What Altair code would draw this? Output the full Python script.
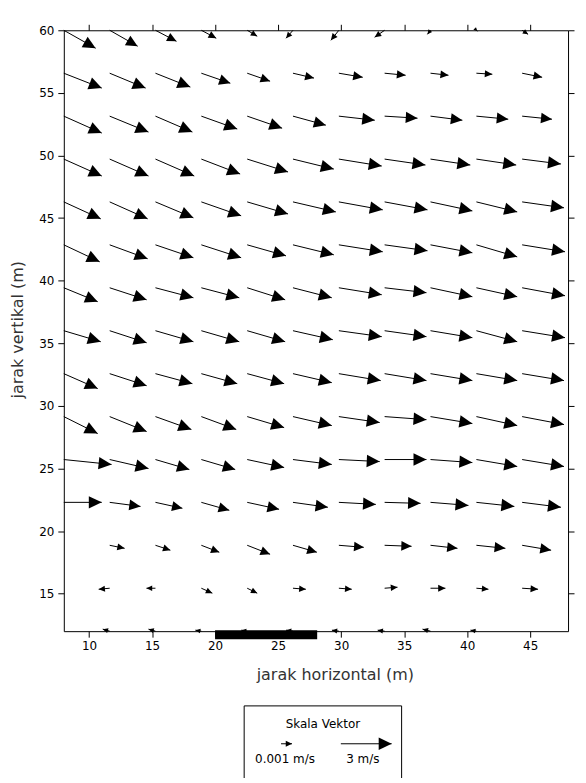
import math
import altair as alt
import pandas as pd

# ---------------- data ----------------
GRID_X = [8.0, 11.64, 15.27, 18.91, 22.55, 26.18, 29.82, 33.45, 37.09, 40.73, 44.36]
GRID_Y = [60.0, 56.57, 53.14, 49.71, 46.29, 42.86, 39.43, 36.0, 32.57, 29.14,
          25.71, 22.29, 18.86, 15.43, 12.0]

# horizontal velocity component (m/s), one list per row (top row first)
U = [
    [1.88, 1.65, 1.24, 0.88, 0.59, -0.41, -0.47, -0.59, -0.18, 0.06, 0.35],
    [2.24, 2.12, 2.06, 1.71, 1.35, 1.24, 1.41, 1.24, 1.06, 0.94, 1.18],
    [2.24, 2.29, 2.18, 2.12, 2.06, 1.94, 2.12, 1.94, 1.88, 1.88, 1.76],
    [2.24, 2.29, 2.29, 2.29, 2.41, 2.41, 2.53, 2.41, 2.35, 2.35, 2.29],
    [2.18, 2.24, 2.24, 2.35, 2.41, 2.53, 2.59, 2.53, 2.47, 2.41, 2.47],
    [2.12, 2.24, 2.24, 2.35, 2.29, 2.41, 2.59, 2.53, 2.47, 2.41, 2.53],
    [2.00, 2.18, 2.24, 2.24, 2.24, 2.29, 2.53, 2.47, 2.47, 2.41, 2.53],
    [2.18, 2.18, 2.24, 2.24, 2.24, 2.35, 2.53, 2.47, 2.47, 2.41, 2.53],
    [2.00, 2.18, 2.18, 2.12, 2.18, 2.29, 2.47, 2.47, 2.47, 2.41, 2.47],
    [2.00, 2.18, 2.12, 2.06, 2.18, 2.29, 2.41, 2.47, 2.47, 2.41, 2.47],
    [2.82, 2.29, 2.00, 2.00, 2.18, 2.29, 2.41, 2.47, 2.47, 2.41, 2.47],
    [2.24, 1.82, 1.59, 1.65, 1.88, 2.06, 2.18, 2.12, 2.24, 2.24, 2.29],
    [0.00, 0.88, 0.88, 1.06, 1.35, 1.41, 1.47, 1.59, 1.59, 1.71, 1.71],
    [0.00, -0.65, -0.53, 0.65, 0.59, 0.76, 0.76, 0.76, 0.88, 0.71, 0.94],
    [0.00, -0.41, -0.41, -0.35, -0.35, -0.41, -0.41, -0.41, -0.47, -0.35, 0.00],
]
# vertical velocity component (m/s, positive = up)
V = [
    [-1.06, -0.94, -0.65, -0.47, -0.35, -0.47, -0.59, -0.41, -0.24, -0.06, -0.24],
    [-0.88, -0.88, -0.82, -0.59, -0.47, -0.29, -0.24, -0.12, -0.12, -0.06, -0.24],
    [-1.00, -0.94, -0.94, -0.76, -0.71, -0.53, -0.24, -0.12, -0.24, -0.18, -0.18],
    [-1.00, -1.00, -1.00, -0.88, -0.76, -0.59, -0.41, -0.35, -0.35, -0.35, -0.29],
    [-1.00, -1.00, -0.94, -0.82, -0.71, -0.59, -0.47, -0.47, -0.53, -0.59, -0.35],
    [-1.00, -0.82, -0.76, -0.76, -0.65, -0.59, -0.41, -0.35, -0.47, -0.71, -0.41],
    [-0.82, -0.71, -0.59, -0.59, -0.71, -0.59, -0.41, -0.29, -0.53, -0.53, -0.47],
    [-0.65, -0.71, -0.65, -0.65, -0.65, -0.53, -0.35, -0.35, -0.41, -0.65, -0.41],
    [-0.88, -0.71, -0.59, -0.59, -0.59, -0.53, -0.41, -0.41, -0.41, -0.41, -0.41],
    [-1.00, -0.88, -0.76, -0.76, -0.65, -0.53, -0.35, -0.18, -0.41, -0.53, -0.47],
    [-0.29, -0.53, -0.59, -0.59, -0.47, -0.29, -0.12, 0.00, -0.18, -0.41, -0.41],
    [0.00, -0.24, -0.35, -0.47, -0.41, -0.29, -0.12, -0.06, -0.18, -0.24, -0.29],
    [0.00, -0.18, -0.29, -0.41, -0.53, -0.41, -0.12, -0.06, -0.18, -0.18, -0.29],
    [0.00, -0.06, 0.00, -0.29, -0.29, -0.06, -0.06, 0.06, 0.00, -0.06, -0.06],
    [0.00, 0.12, 0.12, 0.06, 0.06, 0.06, 0.06, 0.06, 0.12, 0.06, 0.00],
]

STRUCTURE_X = [20.0, 28.1]
X_TICKS = [10, 15, 20, 25, 30, 35, 40, 45]
Y_TICKS = [15, 20, 25, 30, 35, 40, 45, 50, 55, 60]
LEGEND_TITLE = "Skala Vektor"
LEGEND_SMALL = "0.001 m/s"
LEGEND_BIG = "3 m/s"
LEGEND_BIG_SPEED = 3.0

# ---------------- geometry / style ----------------
W, H = 506, 603
XDOM = [8, 48]
YDOM = [12, 60]
SX = W / (XDOM[1] - XDOM[0])
SY = H / (YDOM[1] - YDOM[0])
PX_PER_MS = 17.0
HEAD = "M0,0L-1,-0.48L-1,0.48Z"
FONT = "DejaVu Sans"


def head_len(px):
    return min(13.0, 3.5 + 0.25 * px)


rows = []
for j, y in enumerate(GRID_Y):
    for i, x in enumerate(GRID_X):
        u, v = U[j][i], V[j][i]
        if math.hypot(u, v) < 0.01:
            continue
        dxp, dyp = u * PX_PER_MS, v * PX_PER_MS
        L = math.hypot(dxp, dyp)
        rows.append(dict(
            x=x, y=y, x2=x + dxp / SX, y2=y + dyp / SY,
            ang=(-math.degrees(math.atan2(v, u))) % 360,
            size=(2 * head_len(L)) ** 2,
        ))
df = pd.DataFrame(rows)

xs = alt.Scale(domain=XDOM, nice=False, zero=False)
ys = alt.Scale(domain=YDOM, nice=False, zero=False)

common_axis = dict(grid=False, tickSize=6, tickColor="black", domainColor="black",
                   domainWidth=1, tickWidth=1)

bottom_axis = alt.Axis(orient="bottom", values=X_TICKS, format="d",
                       labelFont=FONT, labelFontSize=12, labelColor="black",
                       labelPadding=3, title="jarak horizontal (m)",
                       titleFont=FONT, titleFontSize=16, titleFontWeight="normal",
                       titleColor="#333333", titleX=272, titleY=44,
                       titleAlign="center", titleBaseline="middle", **common_axis)
left_axis = alt.Axis(orient="left", values=Y_TICKS, format="d",
                     labelFont=FONT, labelFontSize=12, labelColor="black",
                     labelPadding=4, title="jarak vertikal (m)",
                     titleFont=FONT, titleFontSize=16, titleFontWeight="normal",
                     titleColor="#333333", titleX=-46, titleY=300, titleAngle=270,
                     titleAlign="center", titleBaseline="middle", **common_axis)
top_axis = alt.Axis(orient="top", values=X_TICKS, labels=False, title=None, **common_axis)
right_axis = alt.Axis(orient="right", values=Y_TICKS, labels=False, title=None, **common_axis)

shafts = alt.Chart(df).mark_rule(color="black", strokeWidth=1).encode(
    x=alt.X("x:Q", scale=xs, axis=bottom_axis),
    y=alt.Y("y:Q", scale=ys, axis=left_axis),
    x2="x2:Q",
    y2="y2:Q",
)

heads = alt.Chart(df).mark_point(shape=HEAD, filled=True, color="black",
                                 opacity=1, strokeWidth=0).encode(
    x=alt.X("x2:Q", scale=xs, axis=top_axis),
    y=alt.Y("y2:Q", scale=ys, axis=right_axis),
    angle=alt.Angle("ang:Q", scale=None),
    size=alt.Size("size:Q", scale=None),
)

structure = alt.Chart(pd.DataFrame({"a": [STRUCTURE_X[0]], "b": [STRUCTURE_X[1]]})).mark_rect(
    color="black").encode(
    x=alt.X("a:Q", scale=xs, axis=None),
    x2="b:Q",
    y=alt.value(602),
    y2=alt.value(611),
)

one = pd.DataFrame({"k": [0]})

# legend box (pixel positions relative to plot area)
BL, BR, BT, BB = 181, 339, 678, 770
box_top = alt.Chart(one).mark_rule(color="black", strokeWidth=1).encode(
    x=alt.value(BL), x2=alt.value(BR), y=alt.value(BT), y2=alt.value(BT))
box_left = alt.Chart(one).mark_rule(color="black", strokeWidth=1).encode(
    x=alt.value(BL), x2=alt.value(BL), y=alt.value(BT), y2=alt.value(BB))
box_right = alt.Chart(one).mark_rule(color="black", strokeWidth=1).encode(
    x=alt.value(BR), x2=alt.value(BR), y=alt.value(BT), y2=alt.value(BB))


def legend_text(txt, px, py):
    return alt.Chart(one).mark_text(font=FONT, fontSize=12, color="black",
                                    align="center", baseline="middle", text=txt).encode(
        x=alt.value(px), y=alt.value(py))


def legend_arrow(x0, length, py):
    lh = head_len(length)
    shaft = alt.Chart(one).mark_rule(color="black", strokeWidth=1).encode(
        x=alt.value(x0), x2=alt.value(x0 + length), y=alt.value(py), y2=alt.value(py))
    hd = alt.Chart(one).mark_point(shape=HEAD, filled=True, color="black", opacity=1,
                                   strokeWidth=0, size=(2 * lh) ** 2).encode(
        x=alt.value(x0 + length), y=alt.value(py))
    return shaft + hd


big_len = LEGEND_BIG_SPEED * PX_PER_MS

chart = alt.layer(
    shafts, heads, structure,
    box_top, box_left, box_right,
    legend_text(LEGEND_TITLE, 260, 696),
    legend_arrow(218, 11, 716),
    legend_arrow(278, big_len, 716),
    legend_text(LEGEND_SMALL, 222, 731),
    legend_text(LEGEND_BIG, 300, 731),
).resolve_axis(x="independent", y="independent").properties(
    width=W, height=H,
    autosize=alt.AutoSizeParams(type="none"),
    padding={"left": 56, "top": 21, "right": 10, "bottom": 146},
    background="white",
).configure_view(stroke="transparent")

chart.save("out.html", embed_options={"renderer": "svg", "actions": False})
